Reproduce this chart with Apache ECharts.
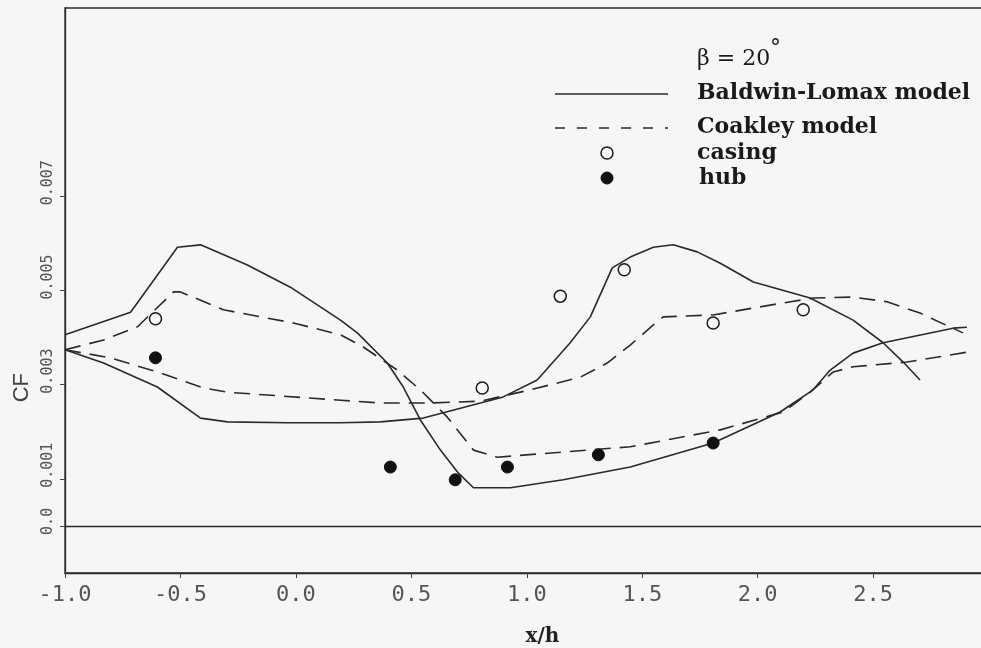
<!DOCTYPE html>
<html>
<head>
<meta charset="utf-8">
<script src="https://cdn.jsdelivr.net/npm/echarts@6/dist/echarts.min.js"></script>
<style>
html,body{margin:0;padding:0;background:#f6f6f6;}
#c{width:981px;height:648px;}
</style>
</head>
<body>
<div id="c"></div>
<script>
// ---- data ----
const xTicks = [-1.0, -0.5, 0.0, 0.5, 1.0, 1.5, 2.0, 2.5];
const yTicks = [0.0, 0.001, 0.003, 0.005, 0.007];
const legendNames = ['Baldwin-Lomax model', 'Coakley model', 'casing', 'hub'];
const legendTitle = 'β = 20';

// Baldwin-Lomax model, curve with early peak
const baldwinA = [
  [-1.0, 0.00406], [-0.716, 0.00454], [-0.513, 0.00592], [-0.413, 0.00597],
  [-0.210, 0.00554], [-0.024, 0.00507], [0.193, 0.00437], [0.266, 0.00410],
  [0.396, 0.00346], [0.465, 0.00295], [0.539, 0.00225], [0.626, 0.00161],
  [0.704, 0.00112], [0.769, 0.00081], [0.929, 0.00081], [1.158, 0.00098],
  [1.448, 0.00125], [1.807, 0.00176], [2.097, 0.00242], [2.240, 0.00289],
  [2.314, 0.00331], [2.413, 0.00367], [2.543, 0.00389], [2.846, 0.00420],
  [2.906, 0.00422]
];
// Baldwin-Lomax model, curve with late peak
const baldwinB = [
  [-1.0, 0.00374], [-0.833, 0.00346], [-0.600, 0.00295], [-0.413, 0.00229],
  [-0.297, 0.00221], [-0.037, 0.00219], [0.193, 0.00219], [0.366, 0.00221],
  [0.552, 0.00229], [0.799, 0.00261], [0.898, 0.00274], [1.045, 0.00310],
  [1.188, 0.00389], [1.275, 0.00444], [1.370, 0.00548], [1.448, 0.00571],
  [1.548, 0.00592], [1.634, 0.00597], [1.738, 0.00582], [1.838, 0.00558],
  [1.981, 0.00518], [2.227, 0.00484], [2.413, 0.00437], [2.543, 0.00389],
  [2.630, 0.00348], [2.703, 0.00310]
];
// Coakley model, curve with early peak
const coakleyA = [
  [-1.0, 0.00374], [-0.833, 0.00395], [-0.686, 0.00423], [-0.530, 0.00497],
  [-0.500, 0.00497], [-0.314, 0.00459], [-0.011, 0.00431], [0.193, 0.00406],
  [0.292, 0.00380], [0.439, 0.00331], [0.539, 0.00289], [0.656, 0.00231],
  [0.769, 0.00161], [0.872, 0.00146], [1.158, 0.00157], [1.448, 0.00168],
  [1.838, 0.00204], [2.110, 0.00242], [2.227, 0.00284], [2.327, 0.00327],
  [2.413, 0.00338], [2.647, 0.00348], [2.906, 0.00369]
];
// Coakley model, curve with late plateau
const coakleyB = [
  [-1.0, 0.00374], [-0.803, 0.00357], [-0.587, 0.00325], [-0.400, 0.00293],
  [-0.297, 0.00284], [0.193, 0.00267], [0.366, 0.00261], [0.582, 0.00261],
  [0.799, 0.00265], [1.015, 0.00289], [1.232, 0.00316], [1.348, 0.00346],
  [1.448, 0.00384], [1.548, 0.00427], [1.591, 0.00444], [1.807, 0.00448],
  [2.054, 0.00469], [2.240, 0.00484], [2.413, 0.00486], [2.560, 0.00476],
  [2.703, 0.00452], [2.889, 0.00410]
];
// measurements
const casing = [
  [-0.608, 0.00440], [0.807, 0.00293], [1.145, 0.00488],
  [1.422, 0.00544], [1.807, 0.00431], [2.197, 0.00459]
];
const hub = [
  [-0.608, 0.00357], [0.409, 0.00125], [0.690, 0.00098],
  [0.916, 0.00125], [1.310, 0.00151], [1.807, 0.00176]
];

const BG = '#f6f6f6';
const INK = '#2a2a2a';
const TXT = '#1a1a1a';
const solid = {color: INK, width: 1.6, type: 'solid'};
const dashed = {color: INK, width: 1.6, type: [16, 9]};
const legFont = 'bold 22px "DejaVu Serif"';

const chart = echarts.init(document.getElementById('c'), null, {renderer: 'canvas'});
chart.setOption({
  backgroundColor: BG,
  animation: false,
  grid: {left: 65, top: 8, right: -3, bottom: 75, show: true, borderColor: INK, borderWidth: 1.3,
    containLabel: false, outerBoundsMode: 'none'},
  xAxis: {
    type: 'value', min: -1.0, max: 2.98,
    axisLine: {show: true, onZero: false, lineStyle: {color: INK, width: 1.3}},
    axisTick: {show: true, inside: false, length: 5, customValues: xTicks, lineStyle: {color: '#444'}},
    axisLabel: {
      customValues: xTicks, margin: 11,
      formatter: v => v.toFixed(1),
      fontFamily: 'DejaVu Sans Mono', fontSize: 22, color: '#555'
    },
    splitLine: {show: false},
    name: 'x/h', nameLocation: 'middle', nameGap: 54,
    nameTextStyle: {fontFamily: 'DejaVu Serif', fontWeight: 'bold', fontSize: 20, color: '#222', padding: [0, 0, 0, 36]}
  },
  yAxis: {
    type: 'value', min: -0.001, max: 0.011,
    axisLine: {show: true, onZero: false, lineStyle: {color: INK, width: 1.3}},
    axisTick: {show: true, inside: false, length: 5, customValues: yTicks, lineStyle: {color: '#444'}},
    axisLabel: {
      customValues: yTicks, rotate: 90, margin: 17,
      align: 'left', verticalAlign: 'middle', padding: [0, 0, 0, -9],
      formatter: v => (v === 0 ? '0.0' : v.toFixed(3)),
      fontFamily: 'DejaVu Sans Mono', fontSize: 15, color: '#555'
    },
    splitLine: {show: false}
  },
  graphic: [
    {type: 'text', x: 697, y: 59, style: {text: legendTitle, font: '22px "DejaVu Serif"', fill: TXT, align: 'left', verticalAlign: 'middle'}},
    {type: 'text', x: 770, y: 49, style: {text: '°', font: '22px "DejaVu Serif"', fill: TXT, align: 'left', verticalAlign: 'middle'}},
    {type: 'line', shape: {x1: 555, y1: 94, x2: 668, y2: 94}, style: {stroke: INK, lineWidth: 1.5}},
    {type: 'text', x: 697, y: 93, style: {text: legendNames[0], font: legFont, fill: TXT, align: 'left', verticalAlign: 'middle'}},
    {type: 'line', shape: {x1: 555, y1: 128, x2: 668, y2: 128}, style: {stroke: INK, lineWidth: 1.5, lineDash: [10, 12]}},
    {type: 'text', x: 697, y: 127, style: {text: legendNames[1], font: legFont, fill: TXT, align: 'left', verticalAlign: 'middle'}},
    {type: 'circle', shape: {cx: 607, cy: 153, r: 6}, style: {fill: BG, stroke: TXT, lineWidth: 1.5}},
    {type: 'text', x: 697, y: 153, style: {text: legendNames[2], font: legFont, fill: TXT, align: 'left', verticalAlign: 'middle'}},
    {type: 'circle', shape: {cx: 607, cy: 178, r: 6}, style: {fill: '#111', stroke: '#111', lineWidth: 1}},
    {type: 'text', x: 699, y: 178, style: {text: legendNames[3], font: legFont, fill: TXT, align: 'left', verticalAlign: 'middle'}},
    {type: 'text', left: 11, top: 373, rotation: Math.PI / 2, style: {text: 'CF', font: '22px "Liberation Sans"', fill: '#444'}}
  ],
  series: [
    {name: legendNames[0], type: 'line', data: baldwinA, symbol: 'none', lineStyle: solid, z: 3,
      markLine: {silent: true, symbol: 'none', label: {show: false}, lineStyle: {color: INK, width: 1.3, type: 'solid'}, data: [{yAxis: 0}]}},
    {name: legendNames[0], type: 'line', data: baldwinB, symbol: 'none', lineStyle: solid, z: 3},
    {name: legendNames[1], type: 'line', data: coakleyA, symbol: 'none', lineStyle: dashed, z: 3},
    {name: legendNames[1], type: 'line', data: coakleyB, symbol: 'none', lineStyle: dashed, z: 3},
    {name: legendNames[2], type: 'scatter', data: casing, symbol: 'circle', symbolSize: 12, z: 4,
      itemStyle: {color: BG, borderColor: TXT, borderWidth: 1.5, opacity: 1}},
    {name: legendNames[3], type: 'scatter', data: hub, symbol: 'circle', symbolSize: 12, z: 4,
      itemStyle: {color: '#111', borderColor: '#111', borderWidth: 1, opacity: 1}}
  ]
});
</script>
</body>
</html>
